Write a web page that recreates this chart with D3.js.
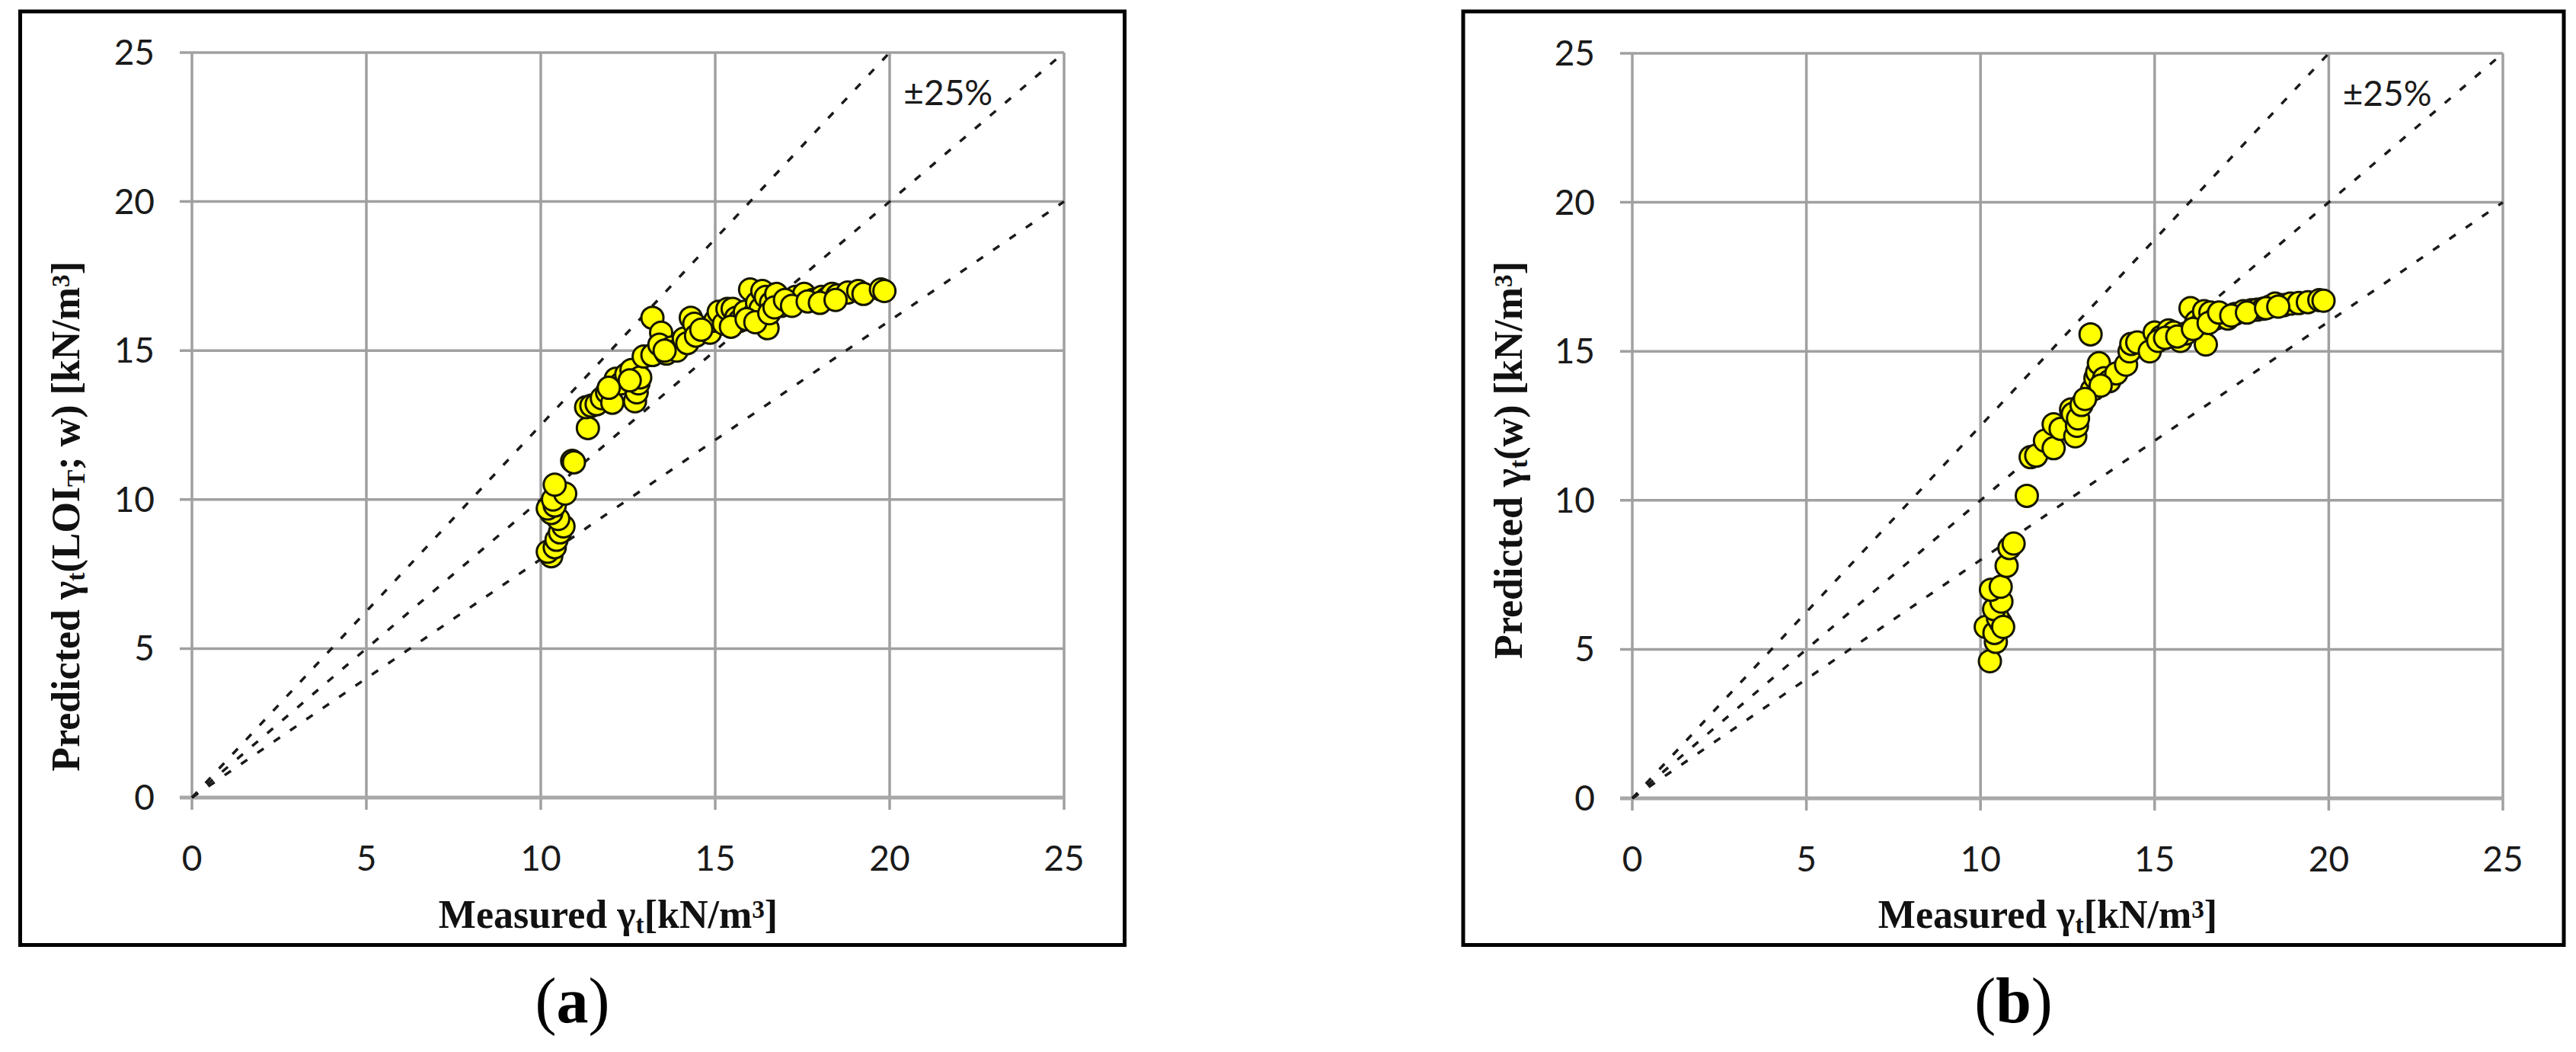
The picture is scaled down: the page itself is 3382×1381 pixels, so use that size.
<!DOCTYPE html>
<html>
<head>
<meta charset="utf-8">
<script src="https://cdn.jsdelivr.net/npm/d3@7"></script>
<style>
  body { margin: 0; background: #fff; }
  .tick-label { font-family: Lato, "Open Sans", sans-serif; font-size: 46px; fill: #1a1a1a; }
  .axis-title { font-family: "Liberation Serif", "DejaVu Serif", serif; font-weight: bold; font-size: 52px; fill: #111; }
  .panel-tag { font-family: "Liberation Serif", serif; font-size: 84px; fill: #000; }
</style>
</head>
<body>
<script>
'use strict';

// tick values on both axes
const xTicks = [0, 5, 10, 15, 20, 25];
const yTicks = [0, 5, 10, 15, 20, 25];

// 1:1 line and the +/-25% bounds (predicted = slope * measured)
const bandSlopes = [1.25, 1, 0.8];
const bandLabel = "±25%";

// panel (a): predicted from LOI_T and w
const measuredA = [10.3, 10.2, 10.4, 10.45, 10.55, 10.65, 10.5, 10.3, 10.2, 10.4, 10.35, 10.7, 10.4, 10.9, 10.95,
  11.35, 11.3, 11.45, 11.6, 11.75, 11.9, 12.05, 12.15, 12.3, 12.45, 12.6, 12.7, 12.75, 12.8, 12.85,
  12.95, 13.2, 13.2, 13.45, 13.4, 13.6, 13.75, 13.9, 14.1, 14.2, 14.3, 14.4, 14.45, 14.85, 15.0,
  15.1, 15.25, 15.35, 15.5, 15.6, 15.7, 15.85, 16.0, 16.1, 16.2, 16.3, 16.35, 16.45, 16.5, 16.6,
  16.75, 16.9, 17.1, 17.3, 17.55, 17.8, 18.05, 18.2, 18.35, 18.5, 18.8, 19.1, 19.25, 19.75, 19.85,
  15.45, 15.9, 16.15, 16.55, 16.7, 17.0, 17.2, 17.65, 18.0, 18.45, 13.55, 14.6, 12.55, 11.95];
const predictedA = [8.1, 8.25, 8.4, 8.65, 8.9, 9.1, 9.35, 9.55, 9.7, 9.8, 10.0, 10.2, 10.5, 11.3, 11.25,
  12.4, 13.1, 13.15, 13.2, 13.4, 13.6, 13.25, 14.05, 13.9, 14.2, 14.35, 13.3, 13.6, 13.9, 14.1,
  14.8, 16.1, 14.85, 15.6, 15.2, 14.9, 15.1, 15.0, 15.4, 15.25, 16.1, 15.9, 15.5, 15.6, 16.0,
  16.3, 15.9, 16.4, 16.4, 16.1, 16.0, 16.3, 17.05, 16.2, 16.6, 16.4, 17.0, 16.8, 15.75, 16.6,
  16.9, 16.5, 16.6, 16.8, 16.9, 16.7, 16.8, 16.75, 16.9, 16.85, 16.95, 17.0, 16.9, 17.05, 17.0,
  15.8, 16.05, 15.95, 16.25, 16.45, 16.7, 16.5, 16.65, 16.6, 16.7, 15.0, 15.7, 14.0, 13.75];

// panel (b): predicted from w only
const measuredB = [10.27, 10.44, 10.15, 10.4, 10.58, 10.5, 10.39, 10.6, 10.3, 10.58, 10.75, 10.83, 10.95, 11.33, 11.44,
  11.6, 11.85, 12.1, 12.1, 12.3, 12.6, 12.65, 12.72, 12.77, 12.8, 12.9, 13.16, 13.2, 13.3, 13.35,
  13.4, 13.55, 13.7, 13.9, 14.18, 14.28, 14.33, 14.5, 14.86, 15.0, 15.2, 15.4, 15.55, 15.74, 15.9,
  16.03, 16.2, 16.32, 16.42, 16.47, 16.6, 16.75, 16.9, 17.1, 17.3, 17.55, 17.78, 17.95, 18.12, 18.3,
  18.46, 18.7, 18.9, 19.14, 19.4, 19.73, 19.85,
  15.1, 15.3, 15.65, 16.1, 16.55, 16.85, 17.2, 17.65, 18.2, 18.55, 13.45, 13.0, 10.65];
const predictedB = [4.6, 5.25, 5.75, 5.55, 5.9, 6.05, 6.35, 6.6, 7.0, 7.1, 7.8, 8.4, 8.55, 10.15, 11.45,
  11.5, 12.0, 11.75, 12.55, 12.4, 13.05, 12.9, 12.15, 12.5, 12.75, 13.2, 15.57, 13.7, 14.1, 14.3,
  14.6, 14.1, 14.0, 14.26, 14.55, 15.0, 15.25, 15.3, 15.0, 15.63, 15.5, 15.7, 15.63, 15.35, 15.6,
  16.45, 16.0, 15.9, 16.35, 15.23, 16.3, 16.1, 16.2, 16.1, 16.25, 16.35, 16.38, 16.4, 16.43, 16.5,
  16.6, 16.55, 16.6, 16.62, 16.65, 16.72, 16.7,
  15.35, 15.45, 15.5, 15.75, 15.95, 16.3, 16.2, 16.3, 16.45, 16.5, 13.85, 13.4, 5.75];

const svg = d3.select("body").append("svg")
  .attr("width", 3382)
  .attr("height", 1381);

svg.append("rect")
  .attr("width", 3382).attr("height", 1381)
  .attr("fill", "#fff");

// y title pieces: [text, shift]
const yTitleA = [["Predicted γ", null], ["t", "sub"], ["(LOI", null], ["T", "sub"], ["; w) [kN/m", null], ["3", "super"], ["]", null]];
const yTitleB = [["Predicted γ", null], ["t", "sub"], ["(w) [kN/m", null], ["3", "super"], ["]", null]];
const xTitle = [["Measured γ", null], ["t", "sub"], ["[kN/m", null], ["3", "super"], ["]", null]];

drawPanel({
  frame: {x0: 26.5, y0: 15, x1: 1476.5, y1: 1240.5},
  plot: {left: 252, right: 1397, top: 69, bottom: 1047},
  xs: measuredA, ys: predictedA,
  yTitle: yTitleA, tag: "a"
});

drawPanel({
  frame: {x0: 1921, y0: 15, x1: 3366, y1: 1240.5},
  plot: {left: 2143, right: 3286, top: 70, bottom: 1048},
  xs: measuredB, ys: predictedB,
  yTitle: yTitleB, tag: "b"
});

function addRichText(textSel, pieces) {
  pieces.forEach(function (p) {
    let t = textSel.append("tspan").text(p[0]);
    if (p[1]) {
      t.attr("baseline-shift", p[1] === "sub" ? "-22%" : "38%")
        .style("font-size", "64%");
    }
  });
}

function drawPanel(cfg) {
  let g = svg.append("g");
  let p = cfg.plot;

  let x = d3.scaleLinear().domain([0, 25]).range([p.left, p.right]);
  let y = d3.scaleLinear().domain([0, 25]).range([p.bottom, p.top]);

  // outer frame
  g.append("rect")
    .attr("x", cfg.frame.x0).attr("y", cfg.frame.y0)
    .attr("width", cfg.frame.x1 - cfg.frame.x0)
    .attr("height", cfg.frame.y1 - cfg.frame.y0)
    .attr("fill", "none")
    .attr("stroke", "#000")
    .attr("stroke-width", 5);

  // vertical grid lines (run past the axis as tick marks)
  g.selectAll(".vgrid")
    .data(xTicks)
    .enter().append("line")
    .attr("x1", d => x(d)).attr("x2", d => x(d))
    .attr("y1", p.top).attr("y2", p.bottom + 16)
    .attr("stroke", "#a0a0a0")
    .attr("stroke-width", 3.5);

  // horizontal grid lines
  g.selectAll(".hgrid")
    .data(yTicks)
    .enter().append("line")
    .attr("x1", p.left - 16).attr("x2", p.right)
    .attr("y1", d => y(d)).attr("y2", d => y(d))
    .attr("stroke", d => d === 0 ? "#a8a8a8" : "#a0a0a0")
    .attr("stroke-width", d => d === 0 ? 5 : 3.5);

  // tick labels
  g.selectAll(".xlab")
    .data(xTicks)
    .enter().append("text")
    .attr("class", "tick-label")
    .attr("x", d => x(d))
    .attr("y", p.bottom + 96)
    .attr("text-anchor", "middle")
    .text(d => d);

  g.selectAll(".ylab")
    .data(yTicks)
    .enter().append("text")
    .attr("class", "tick-label")
    .attr("x", p.left - 49)
    .attr("y", d => y(d) + 16)
    .attr("text-anchor", "end")
    .text(d => d);

  // 1:1 and +/-25% lines
  g.selectAll(".band")
    .data(bandSlopes)
    .enter().append("line")
    .attr("x1", x(0)).attr("y1", y(0))
    .attr("x2", d => x(d >= 1 ? 25 / d : 25))
    .attr("y2", d => y(d >= 1 ? 25 : 25 * d))
    .attr("stroke", "#1a1a1a")
    .attr("stroke-width", 3.5)
    .attr("stroke-dasharray", "10,16");

  // data points
  let pts = cfg.xs.map((v, i) => ({m: v, p: cfg.ys[i]}));
  g.selectAll(".dot")
    .data(pts)
    .enter().append("circle")
    .attr("cx", d => x(d.m))
    .attr("cy", d => y(d.p))
    .attr("r", 14.5)
    .attr("fill", "#ffff00")
    .attr("stroke", "#151500")
    .attr("stroke-width", 3);

  g.append("text")
    .attr("class", "tick-label")
    .attr("x", x(20.4))
    .attr("y", y(23.24))
    .text(bandLabel);

  // axis titles
  let yt = g.append("text")
    .attr("class", "axis-title")
    .attr("text-anchor", "end")
    .attr("transform", "translate(" + (cfg.frame.x0 + 77) + ",343)rotate(-90)");
  addRichText(yt, cfg.yTitle);

  let xt = g.append("text")
    .attr("class", "axis-title")
    .attr("text-anchor", "middle")
    .attr("x", (p.left + p.right) / 2 - 26)
    .attr("y", 1218);
  addRichText(xt, xTitle);

  // panel tag "(a)" / "(b)"
  let tag = g.append("text")
    .attr("class", "panel-tag")
    .attr("text-anchor", "middle")
    .attr("x", (cfg.frame.x0 + cfg.frame.x1) / 2)
    .attr("y", 1342);
  tag.append("tspan").text("(");
  tag.append("tspan").style("font-weight", "bold").text(cfg.tag);
  tag.append("tspan").text(")");
}
</script>
</body>
</html>
